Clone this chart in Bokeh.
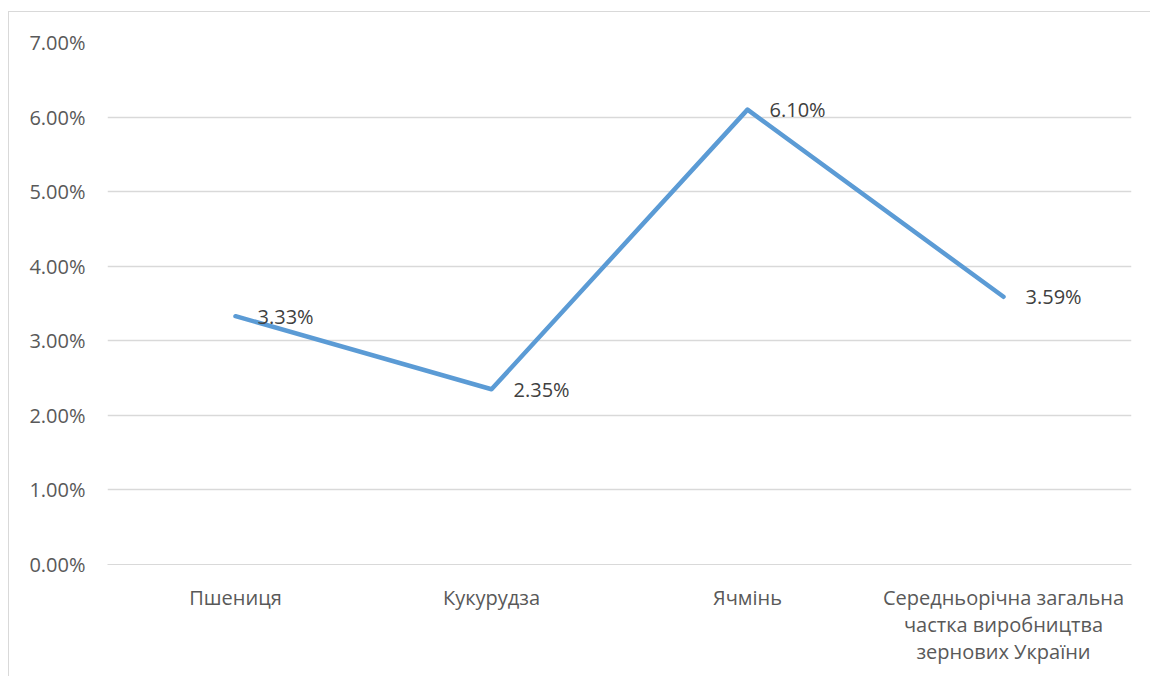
from bokeh.plotting import figure
from bokeh.models import ColumnDataSource, FixedTicker, Range1d, NumeralTickFormatter, LabelSet
from bokeh.core.properties import value
from bokeh.embed import file_html
from bokeh.resources import INLINE

categories = ["Пшениця", "Кукурудза", "Ячмінь", "Середньорічна загальна\nчастка виробництва\nзернових України"]
values = [0.0333, 0.0235, 0.0610, 0.0359]
value_labels = ["3.33%", "2.35%", "6.10%", "3.59%"]
y_ticks = [0.0, 0.01, 0.02, 0.03, 0.04, 0.05, 0.06, 0.07]

xs = [i + 0.5 for i in range(len(categories))]
src = ColumnDataSource(dict(x=xs, y=values, lab=value_labels))

FONT = "Open Sans"
FS = "20px"

p = figure(width=1142, height=665, output_backend="svg", toolbar_location=None,
           x_range=Range1d(0, len(categories)), y_range=Range1d(0, 0.07),
           min_border_left=98, min_border_right=20, min_border_top=30, min_border_bottom=113)
p.styles = {"border-left": "1px solid #d9d9d9", "border-top": "1px solid #d9d9d9",
            "margin-left": "8px", "margin-top": "11px"}
p.outline_line_color = None
p.background_fill_color = "white"
p.border_fill_color = "white"

p.line("x", "y", source=src, line_color="#5b9bd5", line_width=4.5, line_cap="round", line_join="round")

labels = LabelSet(x="x", y="y", text="lab", source=src, x_offset=22, y_offset=0,
                  text_baseline="middle", text_align="left", text_font_size=FS,
                  text_color="#404040", text_font=value(FONT))
p.add_layout(labels)

p.xgrid.visible = False
p.ygrid.grid_line_color = "#d9d9d9"
p.ygrid.grid_line_width = 1.3
p.ygrid.ticker = FixedTicker(ticks=y_ticks)

p.yaxis.ticker = FixedTicker(ticks=y_ticks)
p.yaxis.formatter = NumeralTickFormatter(format="0.00%")
p.yaxis.axis_line_color = None
p.yaxis.major_tick_line_color = None
p.yaxis.minor_tick_line_color = None
p.yaxis.major_label_standoff = 16
p.yaxis.major_label_text_font_size = FS
p.yaxis.major_label_text_color = "#595959"
p.yaxis.major_label_text_font = FONT

p.xaxis.ticker = FixedTicker(ticks=xs)
p.xaxis.major_label_overrides = {x: c for x, c in zip(xs, categories)}
p.xaxis.axis_line_color = "#d9d9d9"
p.xaxis.major_tick_line_color = None
p.xaxis.minor_tick_line_color = None
p.xaxis.major_label_standoff = 13
p.xaxis.major_label_text_font_size = FS
p.xaxis.major_label_text_color = "#595959"
p.xaxis.major_label_text_font = FONT
p.xaxis.major_label_text_line_height = 1.0

open("out.html", "w").write(file_html(p, INLINE))
